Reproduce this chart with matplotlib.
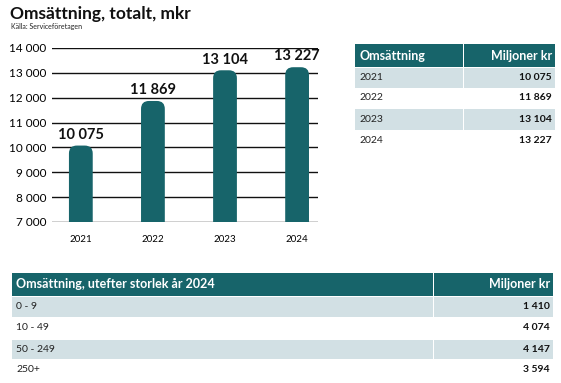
import matplotlib.pyplot as plt
from matplotlib.patches import FancyBboxPatch, Rectangle

# -------------------------------------------------------
# DATA
# -------------------------------------------------------
years = ["2021", "2022", "2023", "2024"]
turnover = [10075, 11869, 13104, 13227]

size_classes = ["0 - 9", "10 - 49", "50 - 249", "250+"]
size_turnover = [1410, 4074, 4147, 3594]

TEAL = "#17646a"
LIGHT = "#d2e0e4"
FONT = "Lato"

plt.rcParams["font.family"] = [FONT, "DejaVu Sans"]


def fmt(v):
    return f"{v:,}".replace(",", " ")


W, H = 561, 383
fig = plt.figure(figsize=(W / 100, H / 100), dpi=100)


def px(x, y):
    # pixel coords (top-left origin) -> figure fraction
    return x / W, 1 - y / H


# -------------------------------------------------------
# TITLE
# -------------------------------------------------------
fig.text(*px(10, 14), "Omsättning, totalt, mkr", fontsize=12.5, fontweight="bold",
         va="center", ha="left", color="#111")
fig.text(*px(11, 27), "Källa: Serviceföretagen", fontsize=5, va="center", ha="left", color="#222")

# -------------------------------------------------------
# BAR CHART
# -------------------------------------------------------
ax_l, ax_r, ax_t, ax_b = 52, 318, 48, 222
ax = fig.add_axes([ax_l / W, 1 - ax_b / H, (ax_r - ax_l) / W, (ax_b - ax_t) / H])
ax.set_xlim(-0.40, 3.29)
ax.set_ylim(7000, 14000)
ax.set_yticks(range(7000, 14001, 1000))
ax.set_yticklabels([fmt(v) for v in range(7000, 14001, 1000)], fontsize=8.5)
ax.set_xticks(range(len(years)))
ax.set_xticklabels(years, fontsize=7)
ax.tick_params(length=0, pad=4)
ax.tick_params(axis="x", pad=9)
for s in ax.spines.values():
    s.set_visible(False)
ax.grid(axis="y", color="#111", lw=1.0)
ax.set_axisbelow(True)

bw = 0.33
xpx = 72.0  # px per x unit
ypx = (ax_b - ax_t) / 7000.0  # px per y unit
aspect = (1 / ypx) / (1 / xpx)
for i, v in enumerate(turnover):
    p = FancyBboxPatch((i - bw / 2, 6000), bw, v - 6000,
                       boxstyle="round,pad=0,rounding_size=0.11",
                       mutation_aspect=aspect, fc=TEAL, ec="none", zorder=3)
    ax.add_patch(p)
    ax.text(i, v + 150, fmt(v), ha="center", va="bottom", fontsize=10.5,
            fontweight="bold", color="#111")

# -------------------------------------------------------
# TABLES
# -------------------------------------------------------
def draw_table(x0, x1, xdiv, y_edges, head, rows, vals, head_fs, body_fs):
    # header
    fig.patches.append(Rectangle(px(x0, y_edges[1]), (x1 - x0) / W,
                                 (y_edges[1] - y_edges[0]) / H,
                                 transform=fig.transFigure, fc=TEAL, ec="none"))
    fig.patches.append(Rectangle(px(xdiv, y_edges[1]), 1.2 / W,
                                 (y_edges[1] - y_edges[0]) / H,
                                 transform=fig.transFigure, fc="white", ec="none", zorder=2))
    yc = (y_edges[0] + y_edges[1]) / 2
    fig.text(*px(x0 + 4, yc), head[0], color="white", fontsize=head_fs,
             fontweight="bold", va="center", ha="left")
    fig.text(*px(x1 - 3, yc), head[1], color="white", fontsize=head_fs,
             fontweight="bold", va="center", ha="right")
    for k, (lab, val) in enumerate(zip(rows, vals)):
        top, bot = y_edges[k + 1], y_edges[k + 2]
        if k % 2 == 0:
            fig.patches.append(Rectangle(px(x0, bot), (x1 - x0) / W, (bot - top - 1) / H,
                                         transform=fig.transFigure, fc=LIGHT, ec="none"))
            fig.patches.append(Rectangle(px(xdiv, bot), 1.2 / W, (bot - top) / H,
                                         transform=fig.transFigure, fc="white", ec="none",
                                         zorder=2))
        yc = (top + bot) / 2
        fig.text(*px(x0 + 4, yc), lab, color="#222", fontsize=body_fs,
                 va="center", ha="left")
        fig.text(*px(x1 - 3, yc), fmt(val), color="#111", fontsize=body_fs,
                 fontweight="bold", va="center", ha="right")


draw_table(355, 555, 463, [44, 67, 88, 108, 130, 150],
           ("Omsättning", "Miljoner kr"), years, turnover, 9, 7.5)
draw_table(12, 553, 433, [273, 296, 317, 339, 359, 380],
           ("Omsättning, utefter storlek år 2024", "Miljoner kr"),
           size_classes, size_turnover, 9, 7.5)

fig.savefig("out.png", dpi=100)
